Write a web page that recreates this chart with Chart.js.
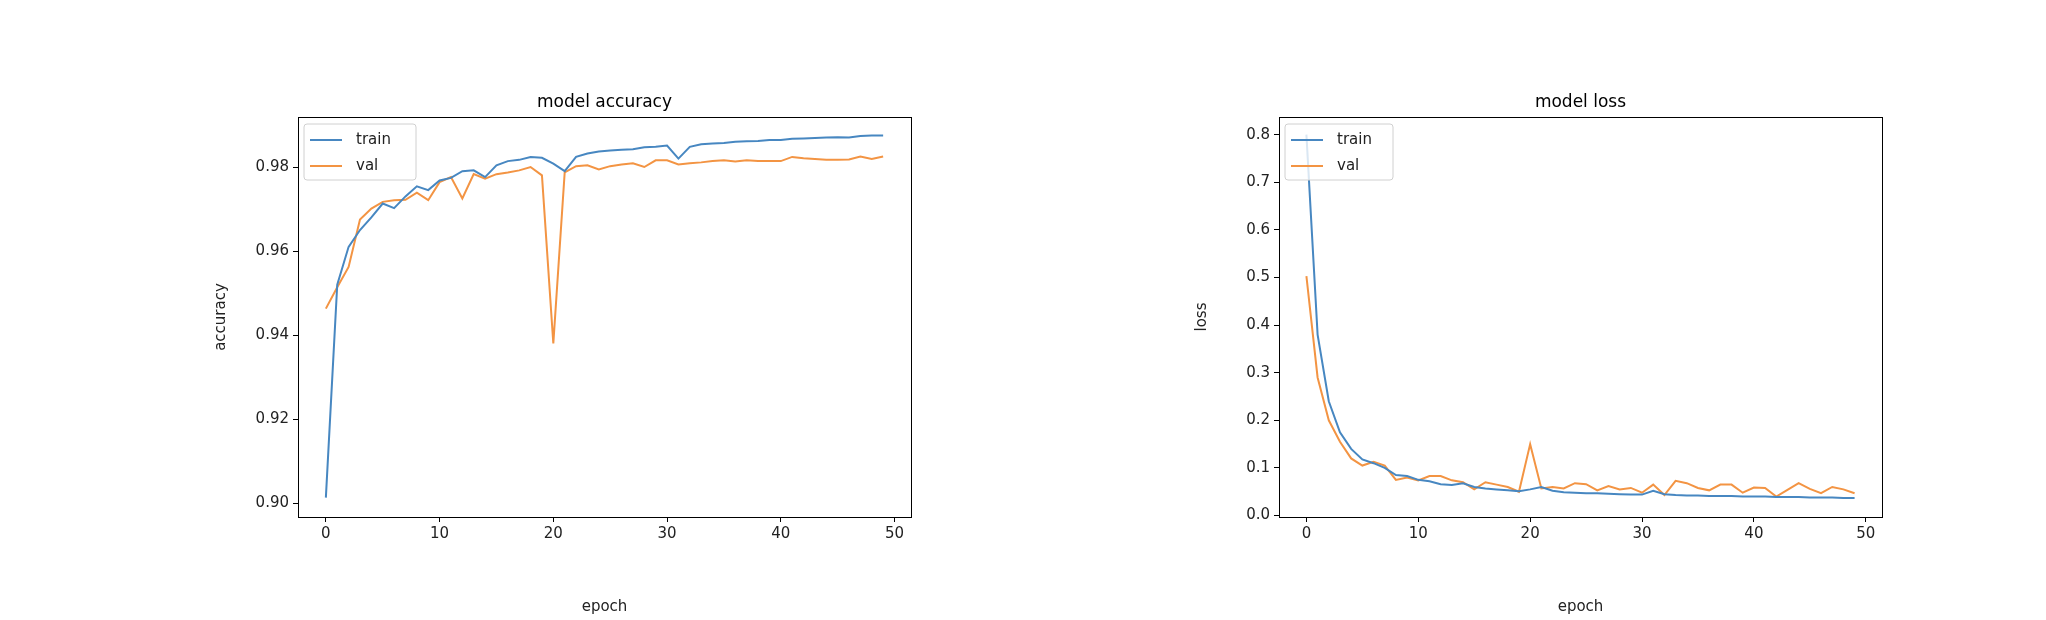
<!DOCTYPE html>
<html>
<head>
<meta charset="utf-8">
<script src="https://cdn.jsdelivr.net/npm/chart.js@4/dist/chart.umd.min.js"></script>
<style>
  body { margin: 0; background: #fff; width: 2046px; height: 620px; position: relative; overflow: hidden; }
  .box { position: absolute; top: 0; height: 620px; }
</style>
</head>
<body>
<div class="box" style="left:208px;width:713px"><canvas id="accChart"></canvas></div>
<div class="box" style="left:1189px;width:703px"><canvas id="lossChart"></canvas></div>
<script>
    var epochs = Array.from({ length: 50 }, (_, i) => i);

    var accTrain = [0.9013, 0.952, 0.961, 0.965, 0.968, 0.9713, 0.9702, 0.973, 0.9754, 0.9745,
        0.9768, 0.9774, 0.979, 0.9792, 0.9776, 0.9804, 0.9814, 0.9817, 0.9824, 0.9822,
        0.9808, 0.979, 0.9824, 0.9832, 0.9837, 0.9839, 0.9841, 0.9842, 0.9847, 0.9848,
        0.9851, 0.982, 0.9848, 0.9854, 0.9856, 0.9857, 0.986, 0.9861, 0.9862, 0.9864,
        0.9864, 0.9867, 0.9868, 0.9869, 0.987, 0.9871, 0.987, 0.9874, 0.9875, 0.9875];
    var accVal = [0.9463, 0.9514, 0.9562, 0.9675, 0.9701, 0.9717, 0.9721, 0.9722, 0.9739, 0.9721,
        0.9764, 0.9776, 0.9725, 0.9783, 0.9772, 0.9783, 0.9787, 0.9792, 0.98, 0.978,
        0.938, 0.9787, 0.9802, 0.9804, 0.9794, 0.9802, 0.9806, 0.9809, 0.98, 0.9816,
        0.9816, 0.9806, 0.9809, 0.9811, 0.9814, 0.9816, 0.9813, 0.9816, 0.9814, 0.9814,
        0.9814, 0.9824, 0.9821, 0.9819, 0.9817, 0.9817, 0.9818, 0.9825, 0.9819, 0.9825];

    var lossTrain = [0.80, 0.38, 0.24, 0.175, 0.14, 0.118, 0.11, 0.10, 0.085, 0.083,
        0.075, 0.072, 0.066, 0.064, 0.068, 0.06, 0.057, 0.055, 0.053, 0.051,
        0.055, 0.06, 0.052, 0.049, 0.048, 0.047, 0.047, 0.046, 0.045, 0.044,
        0.044, 0.052, 0.045, 0.043, 0.042, 0.042, 0.041, 0.041, 0.041, 0.040,
        0.040, 0.040, 0.039, 0.039, 0.039, 0.038, 0.038, 0.038, 0.037, 0.037];
    var lossVal = [0.503, 0.29, 0.20, 0.155, 0.12, 0.105, 0.113, 0.105, 0.075, 0.08,
        0.074, 0.083, 0.083, 0.074, 0.07, 0.055, 0.07, 0.065, 0.06, 0.05,
        0.15, 0.057, 0.06, 0.057, 0.068, 0.066, 0.053, 0.062, 0.055, 0.058,
        0.048, 0.065, 0.043, 0.073, 0.068, 0.058, 0.053, 0.065, 0.065, 0.048,
        0.059, 0.058, 0.04, 0.054, 0.068, 0.056, 0.047, 0.06, 0.055, 0.047];

    var xTicks = [0, 10, 20, 30, 40, 50];
    var accTicks = [0.90, 0.92, 0.94, 0.96, 0.98];
    var lossTicks = [0.0, 0.1, 0.2, 0.3, 0.4, 0.5, 0.6, 0.7, 0.8];

    var blue = '#4787c1';
    var orange = '#f39443';
    var font = "'DejaVu Sans', sans-serif";

    // box around plot area, title and an inside legend (matplotlib look)
    var framePlugin = {
        id: 'frame',
        afterDraw(chart, args, opts) {
            var ctx = chart.ctx, a = chart.chartArea;
            ctx.save();
            ctx.strokeStyle = '#000';
            ctx.lineWidth = 1;
            ctx.strokeRect(a.left + 0.5, a.top + 0.5, a.right - a.left, a.bottom - a.top);
            ctx.fillStyle = '#000';
            ctx.font = '17px ' + font;
            ctx.textAlign = 'center';
            ctx.textBaseline = 'bottom';
            ctx.fillText(opts.title, (a.left + a.right) / 2, a.top - 6);
            // legend
            var lx = a.left + 6, ly = a.top + 7;
            ctx.fillStyle = 'rgba(255,255,255,0.8)';
            ctx.strokeStyle = '#d0d0d0';
            ctx.beginPath();
            ctx.roundRect(lx, ly, opts.legendW, 56, 3);
            ctx.fill();
            ctx.stroke();
            ctx.font = '15px ' + font;
            ctx.textAlign = 'left';
            ctx.textBaseline = 'middle';
            chart.data.datasets.forEach(function (ds, i) {
                var y = ly + 16 + i * 26;
                ctx.strokeStyle = ds.borderColor;
                ctx.lineWidth = 2;
                ctx.beginPath();
                ctx.moveTo(lx + 6, y);
                ctx.lineTo(lx + 38, y);
                ctx.stroke();
                ctx.fillStyle = '#222';
                ctx.fillText(ds.label, lx + 52, y);
            });
            ctx.restore();
        }
    };

    function makeChart(id, train, val, yTicks, yMin, yMax, yLabel, title, yWidth, legendW, decimals) {
        return new Chart(document.getElementById(id), {
            type: 'line',
            data: {
                datasets: [
                    { label: 'train', data: epochs.map((e, i) => ({ x: e, y: train[i] })), borderColor: blue, borderWidth: 2, pointRadius: 0, tension: 0 },
                    { label: 'val', data: epochs.map((e, i) => ({ x: e, y: val[i] })), borderColor: orange, borderWidth: 2, pointRadius: 0, tension: 0 }
                ]
            },
            options: {
                responsive: true,
                maintainAspectRatio: false,
                animation: false,
                layout: { padding: { top: 117, right: 10, left: 0, bottom: 0 } },
                plugins: { legend: { display: false }, tooltip: { enabled: false }, frame: { title: title, legendW: legendW } },
                scales: {
                    x: {
                        type: 'linear', min: -2.45, max: 51.45,
                        afterBuildTicks: s => { s.ticks = xTicks.map(v => ({ value: v })); },
                        afterFit: s => { s.height = 103; },
                        grid: { drawOnChartArea: false, tickLength: 5, tickColor: '#000' },
                        border: { display: false },
                        ticks: { color: '#222', font: { family: font, size: 15 }, padding: 3, callback: v => v },
                        title: { display: true, text: 'epoch', color: '#222', font: { family: font, size: 15 }, padding: { top: 2 } }
                    },
                    y: {
                        type: 'linear', min: yMin, max: yMax,
                        afterBuildTicks: s => { s.ticks = yTicks.map(v => ({ value: v })); },
                        afterFit: s => { s.width = yWidth; },
                        grid: { drawOnChartArea: false, tickLength: 5, tickColor: '#000' },
                        border: { display: false },
                        ticks: { color: '#222', font: { family: font, size: 15 }, padding: 4, callback: v => v.toFixed(decimals) },
                        title: { display: true, text: yLabel, color: '#222', font: { family: font, size: 15 }, padding: { bottom: 6 } }
                    }
                }
            },
            plugins: [framePlugin]
        });
    }

    makeChart('accChart', accTrain, accVal, accTicks, 0.8967, 0.9919, 'accuracy', 'model accuracy', 90, 112, 2);
    makeChart('lossChart', lossTrain, lossVal, lossTicks, -0.003, 0.837, 'loss', 'model loss', 90, 108, 1);
</script>
</body>
</html>
